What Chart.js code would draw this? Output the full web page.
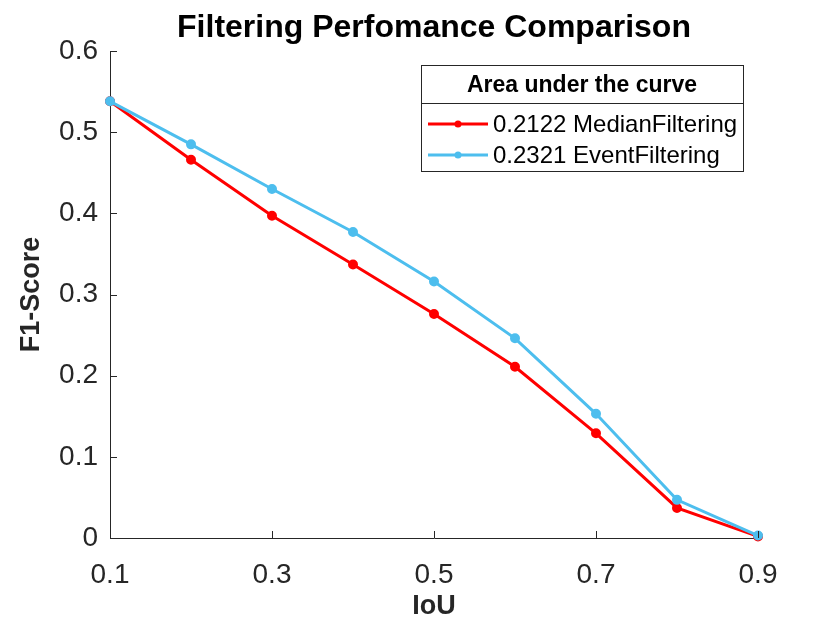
<!DOCTYPE html>
<html>
<head>
<meta charset="utf-8">
<script src="https://cdn.jsdelivr.net/npm/chart.js@4/dist/chart.umd.min.js"></script>
<style>
  body { margin: 0; background: #fff; }
  #wrap { width: 840px; height: 630px; }
</style>
</head>
<body>
<div id="wrap"><canvas id="perfChart" width="840" height="630"></canvas></div>
<script>
// data
var iou = [0.1, 0.2, 0.3, 0.4, 0.5, 0.6, 0.7, 0.8, 0.9];
var medianF1 = [0.538, 0.466, 0.397, 0.337, 0.276, 0.211, 0.129, 0.037, 0.002];
var eventF1 = [0.538, 0.485, 0.430, 0.377, 0.316, 0.246, 0.153, 0.047, 0.003];
var seriesLabels = ['0.2122 MedianFiltering', '0.2321 EventFiltering'];
var legendTitle = 'Area under the curve';
var chartTitle = 'Filtering Perfomance Comparison';

var axisColor = '#262626';
var fontFam = '"Liberation Sans", Arial, sans-serif';

function toPoints(xs, ys) {
  return xs.map(function(x, i) { return { x: x, y: ys[i] }; });
}

// inward tick marks, title and boxed legend like the matlab figure
var matlabLook = {
  id: 'matlabLook',
  afterDraw: function(chart) {
    var ctx = chart.ctx;
    var area = chart.chartArea;
    var xs = chart.scales.x, ys = chart.scales.y;
    ctx.save();
    ctx.strokeStyle = axisColor;
    ctx.lineWidth = 1;
    ctx.beginPath();
    xs.ticks.forEach(function(t) {
      var px = Math.round(xs.getPixelForValue(t.value)) + 0.5;
      ctx.moveTo(px, area.bottom);
      ctx.lineTo(px, area.bottom - 7);
    });
    ys.ticks.forEach(function(t) {
      var py = Math.round(ys.getPixelForValue(t.value)) + 0.5;
      ctx.moveTo(area.left, py);
      ctx.lineTo(area.left + 7, py);
    });
    ctx.stroke();

    // title
    ctx.fillStyle = '#000';
    ctx.font = 'bold 32px ' + fontFam;
    ctx.textAlign = 'center';
    ctx.textBaseline = 'middle';
    ctx.fillText(chartTitle, (area.left + area.right) / 2, 28);

    // legend box
    var lx = 421, ly = 65, lw = 322, lh = 106;
    ctx.fillStyle = '#fff';
    ctx.fillRect(lx, ly, lw, lh);
    ctx.strokeStyle = axisColor;
    ctx.lineWidth = 1;
    ctx.strokeRect(lx + 0.5, ly + 0.5, lw, lh);
    ctx.beginPath();
    ctx.moveTo(lx, 103.5);
    ctx.lineTo(lx + lw, 103.5);
    ctx.stroke();
    ctx.fillStyle = '#000';
    ctx.font = 'bold 23px ' + fontFam;
    ctx.fillText(legendTitle, lx + lw / 2, 86);

    ctx.font = '24px ' + fontFam;
    ctx.textAlign = 'left';
    chart.data.datasets.forEach(function(ds, i) {
      var yy = 124 + i * 31;
      ctx.strokeStyle = ds.borderColor;
      ctx.lineWidth = 3;
      ctx.beginPath();
      ctx.moveTo(428, yy);
      ctx.lineTo(488, yy);
      ctx.stroke();
      ctx.fillStyle = ds.borderColor;
      ctx.beginPath();
      ctx.arc(458, yy, 3.5, 0, Math.PI * 2);
      ctx.fill();
      ctx.fillStyle = '#000';
      ctx.fillText(ds.label, 493, yy + 1);
    });
    ctx.restore();
  }
};

new Chart(document.getElementById('perfChart'), {
  type: 'line',
  data: {
    datasets: [{
      label: seriesLabels[0],
      data: toPoints(iou, medianF1),
      borderColor: '#ff0000',
      backgroundColor: '#ff0000',
      borderWidth: 3,
      pointRadius: 3.5,
      pointHoverRadius: 3.5,
      fill: false,
      tension: 0,
      order: 1
    }, {
      label: seriesLabels[1],
      data: toPoints(iou, eventF1),
      borderColor: '#4dbeee',
      backgroundColor: '#4dbeee',
      borderWidth: 3,
      pointRadius: 3.5,
      pointHoverRadius: 3.5,
      fill: false,
      tension: 0,
      order: 0
    }]
  },
  options: {
    responsive: false,
    animation: false,
    clip: false,
    layout: { padding: { top: 51, right: 82, left: 0, bottom: 0 } },
    plugins: {
      legend: { display: false },
      title: { display: false },
      tooltip: { enabled: false }
    },
    scales: {
      x: {
        type: 'linear',
        min: 0.1,
        max: 0.9,
        afterFit: function(s) { s.height = 92; },
        grid: { display: false },
        border: { display: true, color: axisColor, width: 1 },
        ticks: {
          stepSize: 0.2,
          color: axisColor,
          padding: 12,
          font: { family: fontFam, size: 28 },
          callback: function(v) { return v.toFixed(1); }
        },
        title: {
          display: true,
          text: 'IoU',
          color: axisColor,
          font: { family: fontFam, size: 27, weight: 'bold' },
          padding: { top: 0, bottom: 7 }
        }
      },
      y: {
        min: 0,
        max: 0.6,
        afterFit: function(s) { s.width = 110; },
        grid: { display: false },
        border: { display: true, color: axisColor, width: 1 },
        ticks: {
          stepSize: 0.1,
          color: axisColor,
          padding: 4,
          font: { family: fontFam, size: 28 },
          callback: function(v) { return v === 0 ? '0' : v.toFixed(1); }
        },
        title: {
          display: true,
          text: 'F1-Score',
          color: axisColor,
          font: { family: fontFam, size: 27, weight: 'bold' },
          padding: { top: 15, bottom: 0 }
        }
      }
    }
  },
  plugins: [matlabLook]
});
</script>
</body>
</html>
